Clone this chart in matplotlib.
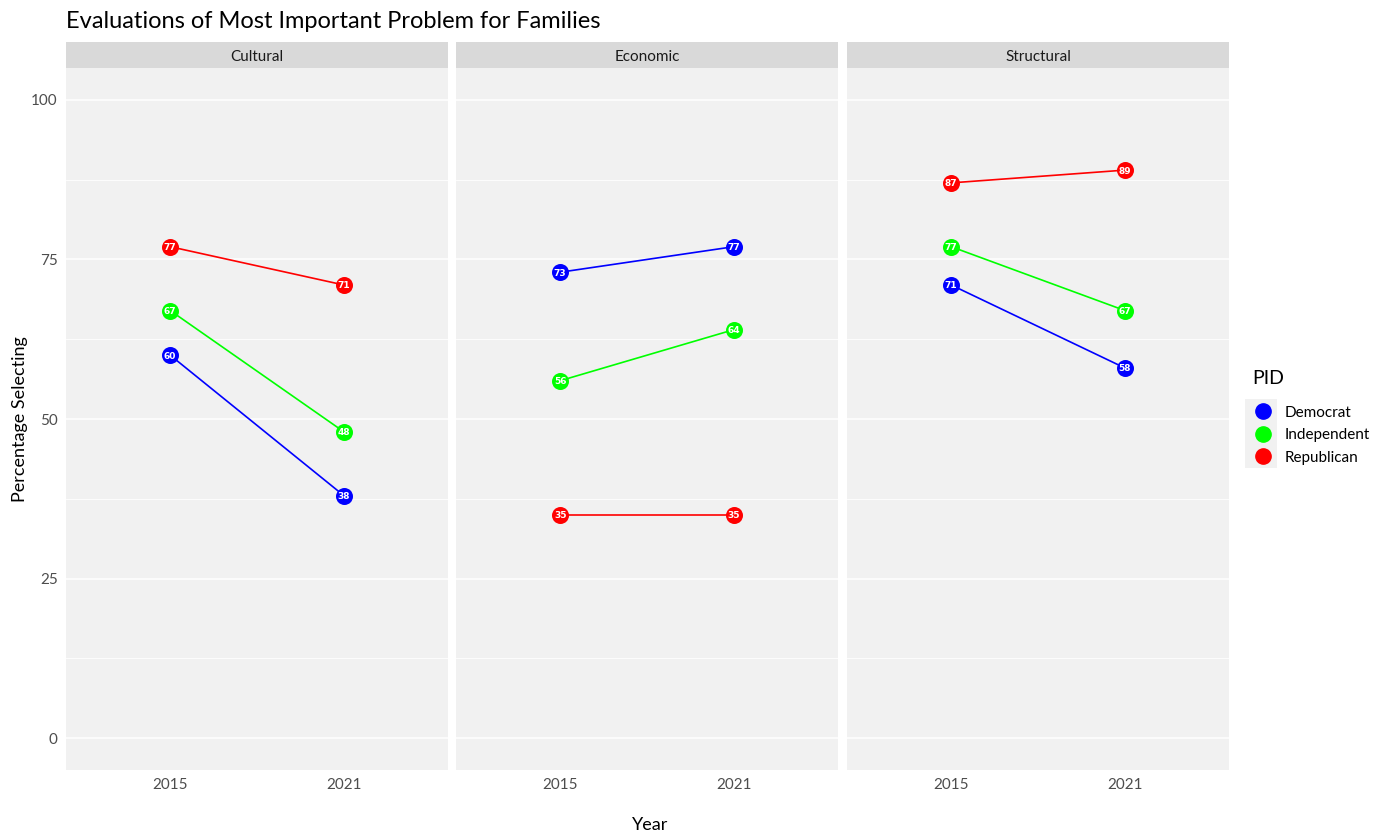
import numpy as np
import matplotlib.pyplot as plt
from matplotlib.patches import Rectangle

plt.rcParams['font.family'] = ['Lato', 'DejaVu Sans']

facets = ["Cultural", "Economic", "Structural"]
years = ["2015", "2021"]
parties = ["Democrat", "Independent", "Republican"]
colors = {"Democrat": "#0000FF", "Independent": "#00FF00", "Republican": "#FF0000"}

# percentage selecting, per facet, per party: [2015, 2021]
cultural = {"Democrat": [60, 38], "Independent": [67, 48], "Republican": [77, 71]}
economic = {"Democrat": [73, 77], "Independent": [56, 64], "Republican": [35, 35]}
structural = {"Democrat": [71, 58], "Independent": [77, 67], "Republican": [87, 89]}
data = [cultural, economic, structural]

W, H = 1387, 835
fig = plt.figure(figsize=(W / 100, H / 100), dpi=100)

panel_left = [66, 456, 847]
panel_w = 382
panel_top, panel_bot = 68, 770
strip_h = 26

x = np.arange(len(years))
for i, (name, d) in enumerate(zip(facets, data)):
    ax = fig.add_axes([panel_left[i] / W, 1 - panel_bot / H, panel_w / W, (panel_bot - panel_top) / H])
    ax.set_facecolor("#F1F1F1")
    for s in ax.spines.values():
        s.set_visible(False)
    ax.set_xlim(-0.6, 1.6)
    ax.set_ylim(-5, 105)
    ax.set_yticks([0, 25, 50, 75, 100])
    ax.set_yticks([12.5, 37.5, 62.5, 87.5], minor=True)
    ax.grid(True, axis="y", which="major", color="white", lw=1.1)
    ax.grid(True, axis="y", which="minor", color="white", lw=0.6)
    ax.set_axisbelow(True)
    ax.set_xticks(x)
    ax.set_xticklabels(years)
    ax.tick_params(axis="both", which="both", length=0, labelsize=11, labelcolor="#4D4D4D", pad=6)
    if i > 0:
        ax.tick_params(axis="y", labelleft=False)
    for p in parties:
        vals = d[p]
        ax.plot(x, vals, color=colors[p], lw=1.2, zorder=2)
        ax.scatter(x, vals, s=150, color=colors[p], zorder=3, linewidths=0)
        for xi, v in zip(x, vals):
            ax.text(xi, v, str(v), color="white", fontsize=6.5, fontweight="bold",
                    ha="center", va="center_baseline", zorder=4, family=["DejaVu Sans"])
    # facet strip
    sax = fig.add_axes([panel_left[i] / W, 1 - panel_top / H, panel_w / W, strip_h / H])
    sax.set_facecolor("#D9D9D9")
    sax.set_xticks([])
    sax.set_yticks([])
    for s in sax.spines.values():
        s.set_visible(False)
    sax.text(0.5, 0.42, name, ha="center", va="center", fontsize=11, color="#1A1A1A",
             transform=sax.transAxes)

fig.text(66 / W, 1 - 21 / H, "Evaluations of Most Important Problem for Families",
         fontsize=17, ha="left", va="center", color="black")
fig.text(20 / W, 1 - 419 / H, "Percentage Selecting", rotation=90, fontsize=13,
         ha="center", va="center")
fig.text(650 / W, 1 - 825 / H, "Year", fontsize=13, ha="center", va="center")

# legend: title, grey key column, entries
fig.text(1252 / W, 1 - 379 / H, "PID", fontsize=14, ha="left", va="center")
fig.patches.append(Rectangle((1245 / W, 1 - 468 / H), 32 / W, 69 / H,
                             transform=fig.transFigure, facecolor="#F1F1F1",
                             edgecolor="none", zorder=0))
handles = [plt.Line2D([], [], color=colors[p], marker="o", markersize=11, lw=0) for p in parties]
leg = fig.legend(handles, parties, loc="upper left",
                 bbox_to_anchor=(1240 / W, 1 - 392 / H), frameon=False, fontsize=11,
                 handlelength=1.2, handletextpad=0.8, labelspacing=0.55)

fig.savefig("out.png", dpi=100)
